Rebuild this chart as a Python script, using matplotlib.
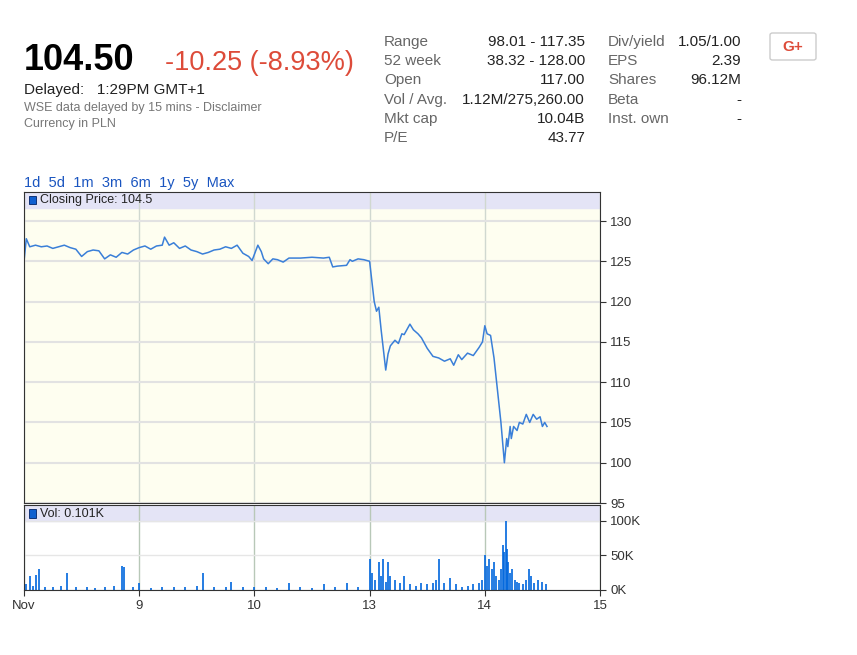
import matplotlib.pyplot as plt
from matplotlib.patches import Rectangle, FancyBboxPatch

plt.rcParams['font.family'] = ['Liberation Sans', 'DejaVu Sans']

# price path, x in trading days from 8 Nov (0) to 15 Nov (5)
price_x = [0.00, 0.02, 0.05, 0.10, 0.15, 0.20, 0.25, 0.30, 0.35, 0.40, 0.45, 0.50, 0.55,
           0.60, 0.65, 0.70, 0.75, 0.80, 0.85, 0.90, 0.95, 1.00, 1.05, 1.10, 1.15, 1.20,
           1.22, 1.26, 1.30, 1.35, 1.40, 1.45, 1.50, 1.55, 1.60, 1.65, 1.70, 1.75, 1.80,
           1.85, 1.90, 1.95, 1.98, 2.03, 2.06, 2.08, 2.12, 2.16, 2.20, 2.25, 2.30, 2.40,
           2.50, 2.60, 2.65, 2.68, 2.72, 2.80, 2.83, 2.85, 2.90, 2.95, 3.00, 3.02, 3.04,
           3.06, 3.08, 3.10, 3.12, 3.14, 3.16, 3.18, 3.22, 3.25, 3.28, 3.30, 3.35, 3.38,
           3.42, 3.45, 3.50, 3.55, 3.60, 3.65, 3.70, 3.73, 3.77, 3.80, 3.85, 3.90, 3.95,
           3.98, 4.00, 4.02, 4.05, 4.08, 4.11, 4.14, 4.17, 4.19, 4.20, 4.22, 4.23, 4.25,
           4.28, 4.30, 4.33, 4.36, 4.39, 4.42, 4.45, 4.48, 4.50, 4.52, 4.54]
price_y = [125.0, 127.8, 126.8, 127.0, 126.8, 126.9, 126.6, 126.8, 127.0, 126.7, 126.5, 125.6, 126.2,
           126.4, 126.3, 125.3, 125.8, 125.5, 126.1, 125.9, 126.4, 126.7, 126.9, 126.5, 126.9, 127.0,
           128.0, 127.0, 127.3, 126.6, 126.9, 126.4, 126.2, 125.9, 126.1, 126.4, 126.5, 126.8, 126.6,
           127.0, 126.0, 125.6, 125.1, 127.0, 126.2, 125.3, 124.7, 125.3, 125.2, 124.9, 125.4, 125.4,
           125.5, 125.4, 125.5, 124.3, 124.4, 124.5, 125.2, 125.0, 125.3, 125.2, 125.0, 122.5, 120.0,
           118.8, 119.3, 116.5, 114.0, 111.5, 113.5, 114.5, 115.2, 114.8, 116.0, 115.9, 117.2, 116.5,
           116.0, 115.5, 114.2, 113.2, 113.0, 112.6, 112.9, 112.1, 113.4, 112.8, 113.6, 113.3, 114.3,
           115.0, 117.0, 116.0, 115.8, 113.0, 109.0, 105.0, 100.0, 103.0, 102.0, 104.5, 103.0, 104.5,
           104.0, 105.0, 104.8, 106.0, 105.0, 106.0, 105.4, 105.7, 104.5, 105.0, 104.5]

# volume bars (thousands)
vol_x = [0.02, 0.05, 0.08, 0.10, 0.13, 0.18, 0.25, 0.32, 0.37, 0.45, 0.55, 0.62, 0.70, 0.78,
         0.85, 0.87, 0.95, 1.00, 1.10, 1.20, 1.30, 1.40, 1.50, 1.55, 1.65, 1.75, 1.80,
         1.90, 2.00, 2.10, 2.20, 2.30, 2.40, 2.50, 2.60, 2.70, 2.80, 2.90,
         3.00, 3.02, 3.05, 3.08, 3.10, 3.12, 3.14, 3.16, 3.18, 3.22, 3.26, 3.30, 3.35,
         3.40, 3.45, 3.50, 3.55, 3.58, 3.60, 3.65, 3.70, 3.75, 3.80, 3.85, 3.90, 3.95,
         3.98, 4.00, 4.02, 4.04, 4.06, 4.08, 4.10, 4.12, 4.14, 4.16, 4.17, 4.18, 4.19,
         4.20, 4.22, 4.24, 4.26, 4.28, 4.30, 4.33, 4.36, 4.38, 4.40, 4.43, 4.46, 4.50, 4.53]
vol_k = [8, 20, 6, 22, 30, 5, 4, 6, 25, 4, 5, 3, 4, 6,
         35, 33, 4, 10, 3, 4, 5, 4, 6, 25, 4, 5, 12,
         4, 4, 4, 3, 10, 4, 3, 9, 4, 10, 5,
         45, 25, 15, 40, 20, 45, 12, 40, 20, 15, 10, 20, 8,
         6, 10, 8, 10, 15, 45, 10, 18, 8, 5, 6, 8, 10,
         15, 50, 35, 45, 30, 40, 20, 15, 30, 65, 55, 100, 60,
         40, 25, 30, 15, 12, 10, 8, 15, 30, 20, 10, 15, 12, 8]

day_ticks = [0, 1, 2, 3, 4, 5]
day_labels = ["Nov", "9", "10", "13", "14", "15"]

W, H = 857, 655
fig = plt.figure(figsize=(W / 100, H / 100), dpi=100)

def box(l, t, r, b):
    return [l / W, 1 - b / H, (r - l) / W, (b - t) / H]

line_c = "#3a7fd8"
band_c = "#e4e4f6"

# price panel
ax = fig.add_axes(box(24, 192, 600, 503))
ax.set_facecolor("#fefef0")
ax.plot(price_x, price_y, color=line_c, lw=1.1)
ax.set_xlim(0, 5)
ax.set_ylim(95, 133.6)
ax.set_yticks([95, 100, 105, 110, 115, 120, 125, 130])
ax.set_xticks(day_ticks)
ax.tick_params(axis="x", labelbottom=False, length=0)
ax.yaxis.tick_right()
ax.tick_params(axis="y", labelsize=9.5, length=4, colors="#333333")
ax.grid(axis="y", color="#e2e2e2", lw=1.5)
ax.grid(axis="x", color="#d0d8d0", lw=1)
ax.add_patch(Rectangle((0, 131.6), 5, 2.0, color=band_c, zorder=1))
ax.add_patch(Rectangle((0.04, 132.1), 0.06, 1.0, facecolor="#1060d0", edgecolor="#002266", lw=0.6, zorder=3))
ax.text(0.14, 132.6, "Closing Price: 104.5", fontsize=9, va="center", color="#222222", zorder=3)
for s in ax.spines.values():
    s.set_color("#333333")

# volume panel
av = fig.add_axes(box(24, 505, 600, 590))
av.set_facecolor("white")
av.vlines(vol_x, 0, vol_k, color="#0066dd", lw=1.2)
av.set_xlim(0, 5)
av.set_ylim(0, 123)
av.set_yticks([0, 50, 100])
av.set_yticklabels(["0K", "50K", "100K"])
av.yaxis.tick_right()
av.tick_params(axis="y", labelsize=9.5, length=4, colors="#333333")
av.set_xticks(day_ticks)
av.set_xticklabels(day_labels)
av.tick_params(axis="x", labelsize=9.5, length=4, colors="#333333")
av.grid(axis="y", color="#e6e6e6", lw=1)
av.grid(axis="x", color="#b8c8b8", lw=1)
av.add_patch(Rectangle((0, 100), 5, 23, color=band_c, zorder=1))
av.add_patch(Rectangle((0.04, 104), 0.06, 13, facecolor="#1060d0", edgecolor="#002266", lw=0.6, zorder=3))
av.text(0.14, 110.5, "Vol: 0.101K", fontsize=9, va="center", color="#222222", zorder=3)
for s in av.spines.values():
    s.set_color("#333333")

# header
fig.text(24 / W, 1 - 70 / H, "104.50", fontsize=26, fontweight="bold", color="black")
fig.text(165 / W, 1 - 70 / H, "-10.25 (-8.93%)", fontsize=19.5, color="#dd4b39")
fig.text(24 / W, 1 - 94 / H, "Delayed:   1:29PM GMT+1", fontsize=11, color="#222222")
fig.text(24 / W, 1 - 111 / H, "WSE data delayed by 15 mins - Disclaimer", fontsize=9, color="#777777")
fig.text(24 / W, 1 - 127 / H, "Currency in PLN", fontsize=9, color="#777777")

labels1 = ["Range", "52 week", "Open", "Vol / Avg.", "Mkt cap", "P/E"]
values1 = ["98.01 - 117.35", "38.32 - 128.00", "117.00", "1.12M/275,260.00", "10.04B", "43.77"]
labels2 = ["Div/yield", "EPS", "Shares", "Beta", "Inst. own"]
values2 = ["1.05/1.00", "2.39", "96.12M", "-", "-"]
for i, (l, v) in enumerate(zip(labels1, values1)):
    y = 1 - (46 + i * 19.2) / H
    fig.text(384 / W, y, l, fontsize=11, color="#666666")
    fig.text(585 / W, y, v, fontsize=11, color="#222222", ha="right")
for i, (l, v) in enumerate(zip(labels2, values2)):
    y = 1 - (46 + i * 19.2) / H
    fig.text(608 / W, y, l, fontsize=11, color="#666666")
    fig.text(741 / W, y, v, fontsize=11, color="#222222", ha="right")

fig.patches.append(FancyBboxPatch((770 / W, 1 - 60 / H), 46 / W, 27 / H, boxstyle="round,pad=0,rounding_size=0.003",
                                  transform=fig.transFigure, facecolor="white", edgecolor="#cccccc", lw=1))
fig.text(793 / W, 1 - 47 / H, "G+", fontsize=11, fontweight="bold", color="#dd4b39", ha="center", va="center")

fig.text(24 / W, 1 - 187 / H, "1d  5d  1m  3m  6m  1y  5y  Max", fontsize=10.5, color="#1a55c0")

fig.savefig("out.png", dpi=100)
